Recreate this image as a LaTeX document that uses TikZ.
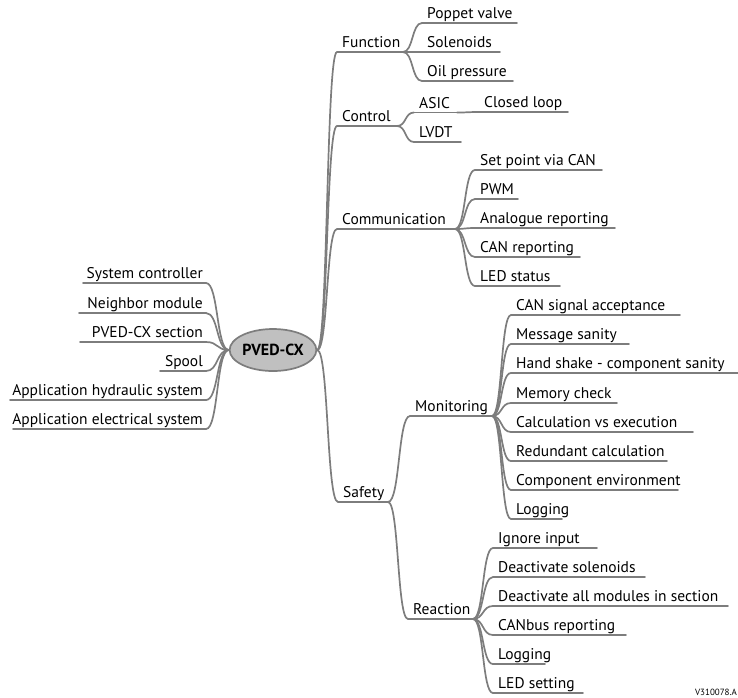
\documentclass[tikz,border=0pt]{standalone}
\usepackage{fontspec}
\setmainfont{PT Sans}
\usetikzlibrary{calc,shapes.geometric}
\definecolor{lngray}{RGB}{125,125,125}
\definecolor{rootfill}{RGB}{192,192,192}
\tikzset{
  ln/.style={draw=lngray, line width=1.7pt, line cap=round},
  leaf/.style={anchor=south west, inner xsep=5pt, inner ysep=0pt, text height=11pt, text depth=4pt, font=\fontsize{15.5}{18}\selectfont},
  lleaf/.style={anchor=south east, inner xsep=3pt, inner ysep=0pt, text height=11pt, text depth=4pt, font=\fontsize{15.5}{18}\selectfont},
  rootnode/.style={ellipse, draw=lngray, line width=1.7pt, fill=rootfill, minimum width=83pt, minimum height=42pt, inner sep=0pt, font=\fontsize{16}{19}\selectfont\bfseries},
}
% name, xs, y, xe, text
\newcommand\leaf[5]{%
  \node[leaf] (#1) at (#2,-#3) {#5};
  \coordinate (#1e) at (#4,-#3);
  \draw[ln] (#1.south west) -- (#1e);
}
% name, xs(left end), y, text
\newcommand\lleaf[4]{%
  \node[lleaf] (#1) at (206,-#3) {#4};
  \coordinate (#1e) at (#2,-#3);
  \draw[ln] (#1.south east) -- (#1e);
}
\newcommand\conn[2]{%
  \draw[ln] let \p1=(#1), \p2=(#2) in (#1) .. controls ({\x1+0.55*(\x2-\x1)},\y1) and ({\x2-0.55*(\x2-\x1)},\y2) .. (#2);
}
\begin{document}
\begin{tikzpicture}[x=1pt,y=1pt]
\clip (0,0) rectangle (738,-697);
\useasboundingbox (0,0) rectangle (738,-697);
\node[rootnode] (root) at (273,-350) {PVED-CX};

% left side
\lleaf{sc}{83}{283}{System controller}
\lleaf{nm}{79}{313}{Neighbor module}
\lleaf{ps}{80}{342}{PVED-CX section}
\lleaf{sp}{160}{371}{Spool}
\lleaf{ah}{10}{400}{Application hydraulic system}
\lleaf{ae}{13}{429}{Application electrical system}
\foreach \q in {sc,nm,ps,sp,ah,ae} {\conn{root.west}{\q.south east}}

% right main branches
\leaf{fun}{337}{52}{403}{Function}
\leaf{ctl}{337}{126}{397}{Control}
\leaf{com}{337}{229}{455}{Communication}
\leaf{saf}{338}{502}{388}{Safety}
\foreach \q in {fun,ctl,com,saf} {\conn{root.east}{\q.south west}}

% Function
\leaf{pv}{422}{23}{517}{Poppet valve}
\leaf{so}{422}{52}{500}{Solenoids}
\leaf{op}{422}{81}{513}{Oil pressure}
\foreach \q in {pv,so,op} {\conn{fune}{\q.south west}}

% Control
\leaf{asic}{414}{112.5}{457}{ASIC}
\leaf{lvdt}{414}{142}{461}{LVDT}
\leaf{cl}{479}{112}{568}{Closed loop}
\foreach \q in {asic,lvdt} {\conn{ctle}{\q.south west}}
\conn{asice}{cl.south west}

% Communication
\leaf{spc}{475}{170}{602}{Set point via CAN}
\leaf{pwm}{475}{199}{518}{PWM}
\leaf{anr}{475}{228}{615}{Analogue reporting}
\leaf{canr}{475}{257}{580}{CAN reporting}
\leaf{leds}{475}{286}{560}{LED status}
\foreach \q in {spc,pwm,anr,canr,leds} {\conn{come}{\q.south west}}

% Safety
\leaf{mon}{410}{416}{492}{Monitoring}
\leaf{rea}{408}{619}{473}{Reaction}
\foreach \q in {mon,rea} {\conn{safe}{\q.south west}}

% Monitoring
\leaf{m1}{511}{315}{680}{CAN signal acceptance}
\leaf{m2}{511}{344}{629}{Message sanity}
\leaf{m3}{511}{373}{740}{Hand shake - component sanity}
\leaf{m4}{511}{403}{617}{Memory check}
\leaf{m5}{511}{432}{693}{Calculation vs execution}
\leaf{m6}{511}{461}{667}{Redundant calculation}
\leaf{m7}{511}{490}{678}{Component environment}
\leaf{m8}{511}{519}{562}{Logging}
\foreach \q in {m1,m2,m3,m4,m5,m6,m7,m8} {\conn{mone}{\q.south west}}

% Reaction
\leaf{r1}{493}{548}{597}{Ignore input}
\leaf{r2}{493}{577}{645}{Deactivate solenoids}
\leaf{r3}{493}{606}{728}{Deactivate all modules in section}
\leaf{r4}{493}{635}{626}{CANbus reporting}
\leaf{r5}{493}{664}{545}{Logging}
\leaf{r6}{493}{693}{583}{LED setting}
\foreach \q in {r1,r2,r3,r4,r5,r6} {\conn{reae}{\q.south west}}

\node[anchor=south east, inner sep=1pt, font=\fontsize{9}{11}\selectfont] (code) at (738,-697) {V310078.A};
\end{tikzpicture}
\end{document}
